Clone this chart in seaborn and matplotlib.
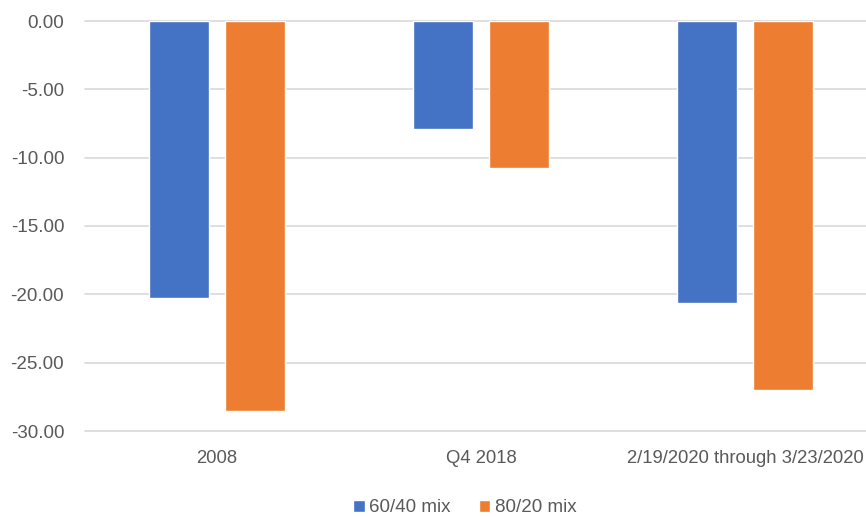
import matplotlib
matplotlib.use("Agg")
import matplotlib.pyplot as plt
import seaborn as sns
import pandas as pd

periods = ["2008", "Q4 2018", "2/19/2020 through 3/23/2020"]
series_names = ["60/40 mix", "80/20 mix"]
mix_60_40 = [-20.25, -7.88, -20.60]
mix_80_20 = [-28.55, -10.78, -27.00]
y_ticks = [0, -5, -10, -15, -20, -25, -30]

colors = ["#4472C4", "#ED7D31"]
text_color = "#595959"

sns.set_theme(style="white")
plt.rcParams["font.family"] = ["Liberation Sans", "DejaVu Sans"]

df = pd.DataFrame({
    "period": periods * 2,
    "series": [series_names[0]] * 3 + [series_names[1]] * 3,
    "value": mix_60_40 + mix_80_20,
})

fig = plt.figure(figsize=(8.66, 5.17), dpi=100)
ax = fig.add_axes([85 / 866, 1 - 431 / 517, 792 / 866, 410 / 517])

sns.barplot(data=df, x="period", y="value", hue="series", order=periods,
            hue_order=series_names, palette=colors, width=0.575, gap=0.22,
            saturation=1, errorbar=None, ax=ax, legend=True)

ax.set_ylim(-30, 0)
ax.set_xlim(-0.5, 2.5)
ax.set_yticks(y_ticks)
ax.set_yticklabels([f"{v:.2f}" for v in y_ticks])
ax.set_xlabel("")
ax.set_ylabel("")

ax.yaxis.grid(True, color="#D9D9D9", linewidth=1.2)
for gl in ax.get_ygridlines():
    gl.set_clip_on(False)
ax.set_axisbelow(True)
for s in ax.spines.values():
    s.set_visible(False)

ax.tick_params(axis="y", length=0, pad=15, labelsize=13.5, labelcolor=text_color)
ax.tick_params(axis="x", length=0, pad=14, labelsize=13.3, labelcolor=text_color)

handles, labels = ax.get_legend_handles_labels()
ax.get_legend().remove()
fig.legend(handles, labels, loc="center", bbox_to_anchor=(465 / 866, 1 - 508 / 517),
           ncol=2, frameon=False, fontsize=13.5, labelcolor=text_color,
           handlelength=0.6, handleheight=0.6, handletextpad=0.25, columnspacing=1.5)

fig.savefig("out.png", dpi=100)
